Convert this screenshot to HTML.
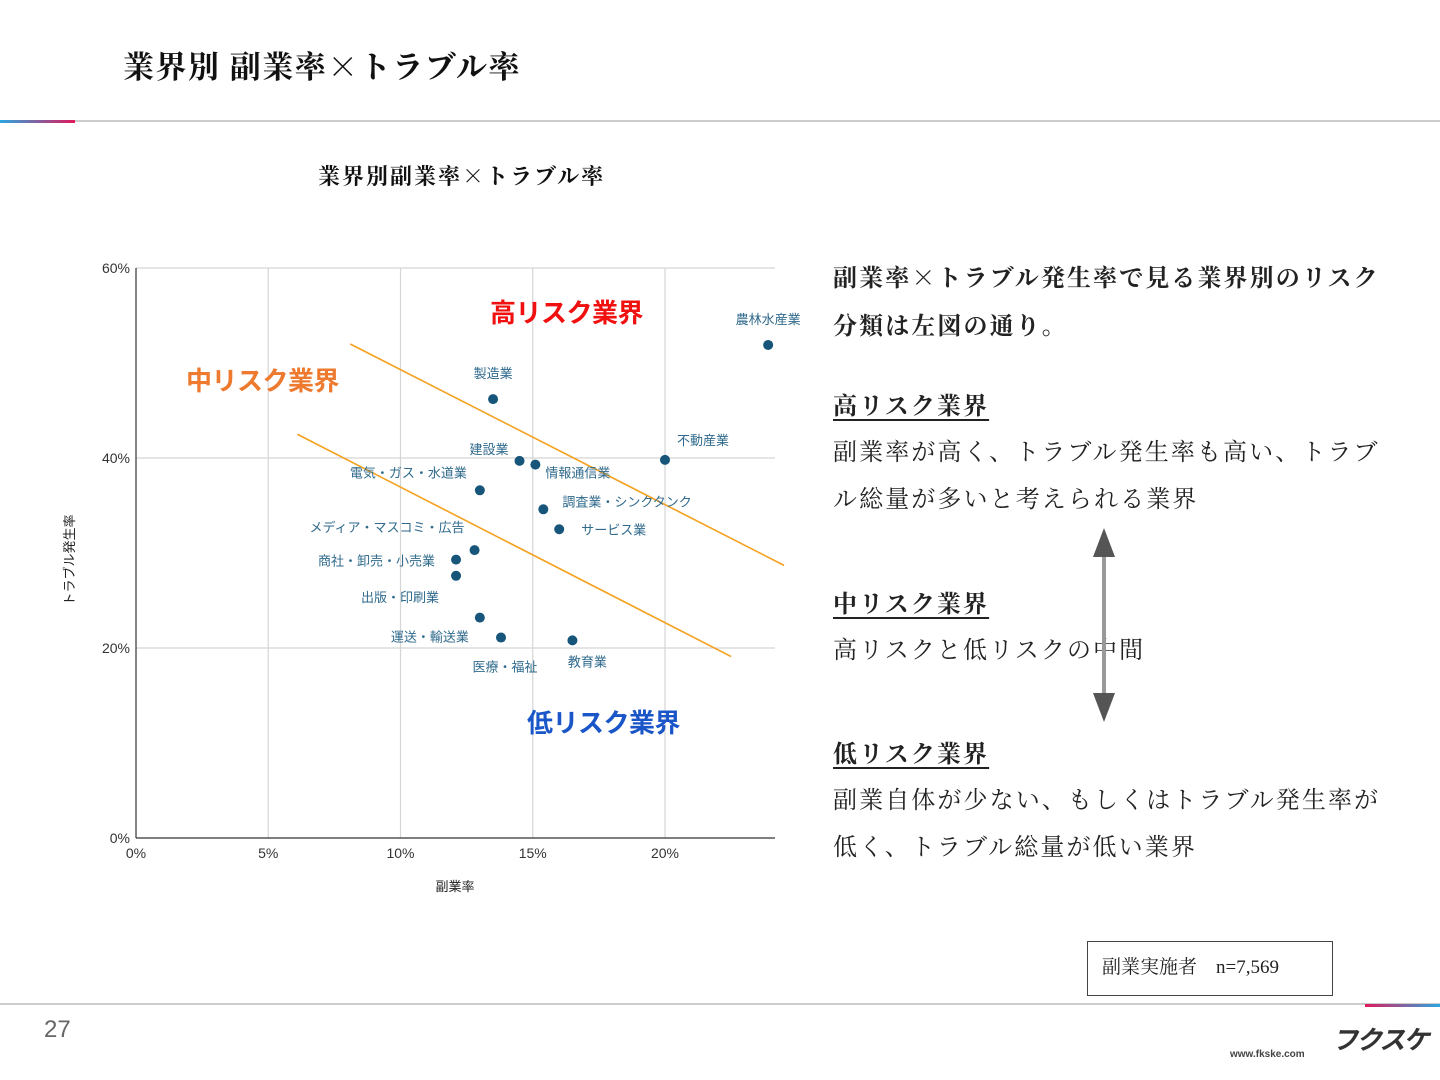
<!DOCTYPE html>
<html><head><meta charset="utf-8">
<style>
body{margin:0;width:1440px;height:1080px;background:#fff;position:relative;overflow:hidden;font-family:"Liberation Sans","Noto Sans CJK JP",sans-serif}
.serif{font-family:"Liberation Serif","Noto Serif CJK SC",serif}
.x{font-family:"Noto Serif CJK SC",serif}
.abs{position:absolute}
.rt{position:absolute;left:833px;font-size:24px;letter-spacing:2.1px;color:#222;white-space:nowrap}
.rh{font-weight:bold;text-decoration:underline;text-underline-offset:5px}
</style></head><body>
<div class="abs serif" style="left:123px;top:42px;font-size:31px;letter-spacing:1.5px;font-weight:bold;color:#111;white-space:nowrap">業界別 副業率<span class="x">×</span>トラブル率</div>
<div class="abs" style="left:0;top:120px;width:1440px;height:2px;background:#ccc"></div>
<div class="abs" style="left:0;top:120px;width:75px;height:3px;background:linear-gradient(90deg,#2aa7e0,#e0195c)"></div>
<div class="abs serif" style="left:318px;top:160px;font-size:22px;letter-spacing:2px;font-weight:bold;color:#111;white-space:nowrap">業界別副業率<span class="x">×</span>トラブル率</div>

<svg class="abs" style="left:0;top:0" width="1440" height="1080">
<g id="g"></g>
</svg>

<div class="rt serif" style="top:258px;font-weight:bold">副業率<span class="x">×</span>トラブル発生率で見る業界別のリスク</div>
<div class="rt serif" style="top:306px;font-weight:bold">分類は左図の通り。</div>
<div class="rt serif rh" style="top:386px">高リスク業界</div>
<div class="rt serif" style="top:432px">副業率が高く、トラブル発生率も高い、トラブ</div>
<div class="rt serif" style="top:479px">ル総量が多いと考えられる業界</div>
<div class="rt serif rh" style="top:584px">中リスク業界</div>
<div class="rt serif" style="top:630px">高リスクと低リスクの中間</div>
<div class="rt serif rh" style="top:734px">低リスク業界</div>
<div class="rt serif" style="top:780px">副業自体が少ない、もしくはトラブル発生率が</div>
<div class="rt serif" style="top:827px">低く、トラブル総量が低い業界</div>

<svg class="abs" style="left:1090px;top:525px" width="30" height="200">
<rect x="12" y="25" width="4" height="150" fill="#999"/>
<polygon points="14,3 3,32 25,32" fill="#555"/>
<polygon points="14,197 3,168 25,168" fill="#555"/>
</svg>

<div class="abs serif" style="left:1087px;top:941px;width:246px;height:55px;border:1.5px solid #444;box-sizing:border-box;font-size:19px;line-height:52px;padding-left:14px;color:#222;white-space:nowrap">副業実施者　n=7,569</div>

<div class="abs" style="left:0;top:1003px;width:1440px;height:2px;background:#ccc"></div>
<div class="abs" style="left:1365px;top:1004px;width:75px;height:3px;background:linear-gradient(90deg,#e0195c,#2aa7e0)"></div>
<div class="abs" style="left:44px;top:1016px;font-size:24px;color:#666">27</div>
<div class="abs" style="left:1332px;top:1020px;font-size:26px;font-style:italic;font-weight:bold;color:#333;white-space:nowrap;letter-spacing:-2px">フクスケ</div>
<div class="abs" style="left:1230px;top:1049px;font-size:10px;color:#444;font-weight:bold">www.fkske.com</div>

<script>
const categories=["農林水産業","製造業","建設業","情報通信業","不動産業","電気・ガス・水道業","調査業・シンクタンク","サービス業","メディア・マスコミ・広告","商社・卸売・小売業","出版・印刷業","運送・輸送業","医療・福祉","教育業"];
const sideJobRate=[23.9,13.5,14.5,15.1,20.0,13.0,15.4,16.0,12.8,12.1,12.1,13.0,13.8,16.5];
const troubleRate=[51.9,46.2,39.7,39.3,39.8,36.6,34.6,32.5,30.3,29.3,27.6,23.2,21.1,20.8];
const xTicks=[0,5,10,15,20];
const yTicks=[0,20,40,60];
const upperLineX=[8.1,24.5],upperLineY=[52.0,28.7];
const lowerLineX=[6.1,22.5],lowerLineY=[42.5,19.1];
// label offsets (px) relative to point: [dx,dy,anchor]
const labelOff=[[0,-21,"middle"],[0,-21,"middle"],[-11,-7,"end"],[10,13,"start"],[12,-15,"start"],[-13,-13,"end"],[19,-3,"start"],[22,5,"start"],[-10,-18,"end"],[-21,6,"end"],[-17,26,"end"],[-11,24,"end"],[4,34,"middle"],[15,26,"middle"]];
const X0=136,X1=775,Y0=838,YT=268;
const xs=v=>X0+v*(665-136)/20;
const ys=v=>Y0-v*(Y0-YT)/60;
const ns="http://www.w3.org/2000/svg";
const g=document.getElementById('g');
function mk(t,a,txt){const e=document.createElementNS(ns,t);for(const k in a)e.setAttribute(k,a[k]);if(txt!=null)e.textContent=txt;g.appendChild(e);return e;}
xTicks.forEach(t=>{if(t>0){const l=mk('line',{x1:xs(t),x2:xs(t),y1:YT,y2:Y0,stroke:'#d5d5d5','stroke-width':1.2});
}
const tx=mk('text',{x:xs(t),y:Y0+20,'text-anchor':'middle','font-size':14,fill:'#333'},t+'%');
});
yTicks.forEach(t=>{if(t>0){const l=mk('line',{x1:X0,x2:X1,y1:ys(t),y2:ys(t),stroke:'#d5d5d5','stroke-width':1.2});
}
const tx=mk('text',{x:X0-6,y:ys(t)+5,'text-anchor':'end','font-size':14,fill:'#333'},t+'%');
});
let ax=mk('line',{x1:X0,x2:X0,y1:YT,y2:Y0,stroke:'#333','stroke-width':1.2});

ax=mk('line',{x1:X0,x2:X1,y1:Y0,y2:Y0,stroke:'#333','stroke-width':1.2});

let at=mk('text',{x:455,y:891,'text-anchor':'middle','font-size':13,fill:'#222'},'副業率');

at=mk('text',{x:0,y:0,'text-anchor':'middle','font-size':13,fill:'#222',transform:'translate(74,560) rotate(-90)'},'トラブル発生率');

let tl=mk('line',{x1:xs(upperLineX[0]),y1:ys(upperLineY[0]),x2:xs(upperLineX[1]),y2:ys(upperLineY[1]),stroke:'#f4a11f','stroke-width':1.6});

tl=mk('line',{x1:xs(lowerLineX[0]),y1:ys(lowerLineY[0]),x2:xs(lowerLineX[1]),y2:ys(lowerLineY[1]),stroke:'#f4a11f','stroke-width':1.6});

categories.forEach((c,i)=>{const cx=xs(sideJobRate[i]),cy=ys(troubleRate[i]);
const p=mk('circle',{cx:cx,cy:cy,r:5,fill:'#17557a'});

const o=labelOff[i];
const t=mk('text',{x:cx+o[0],y:cy+o[1],'text-anchor':o[2],'font-size':13,fill:'#2f6a8c'},c);
});
let z=mk('text',{x:490,y:322,'font-size':26,'font-weight':'bold',fill:'#f01010','letter-spacing':-0.5},'高リスク業界');

z=mk('text',{x:186,y:390,'font-size':26,'font-weight':'bold',fill:'#ee7a30','letter-spacing':-0.5},'中リスク業界');

z=mk('text',{x:527,y:732,'font-size':26,'font-weight':'bold',fill:'#1a56c8','letter-spacing':-0.5},'低リスク業界');

</script>
</body></html>
